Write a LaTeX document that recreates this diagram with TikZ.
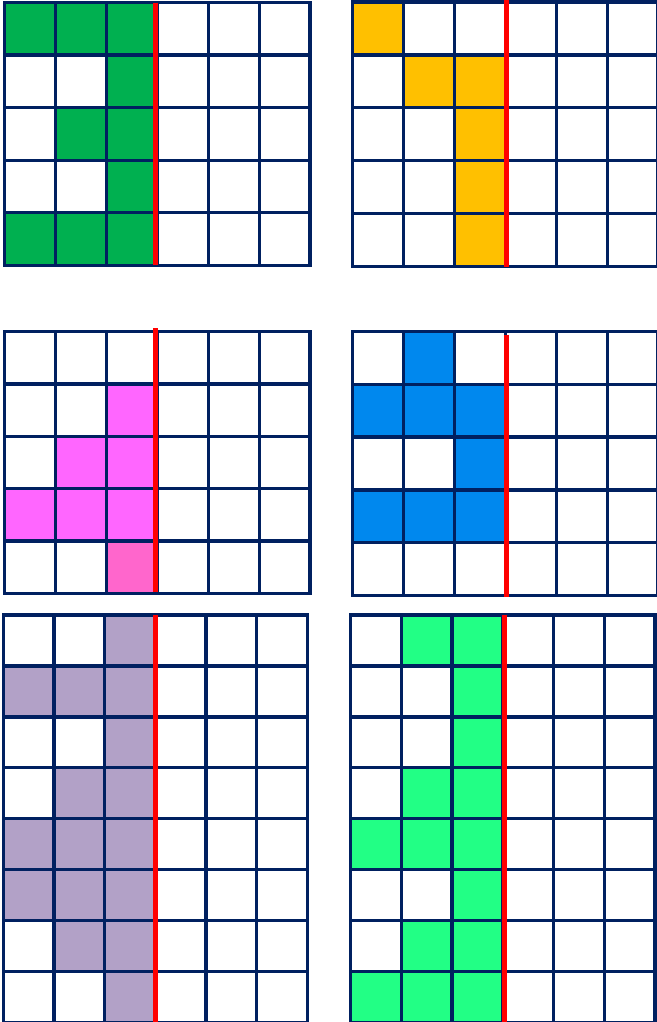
\documentclass[tikz,border=0pt]{standalone}
\usepackage{tikz}

\definecolor{navy}{HTML}{002060}
\definecolor{leafgreen}{HTML}{00B050}
\definecolor{amber}{HTML}{FFC000}
\definecolor{orchid}{HTML}{FF66FF}
\definecolor{rosepink}{HTML}{FF66CC}
\definecolor{skyblue}{HTML}{0088EE}
\definecolor{lavender}{HTML}{B2A1C7}
\definecolor{mint}{HTML}{22FF85}

\tikzset{
    gridline/.style={navy, line width=3.4pt, line cap=rect},
    cutline/.style={red, line width=5pt}
}

\begin{document}
\begin{tikzpicture}[x=1pt,y=-1pt]
    % page with margins
    \fill[white] (0,0) rectangle (656,1022);
    \useasboundingbox (0,0) rectangle (656,1022);

% --------------------
% Top left grid (green)
% --------------------
    \def\ox{4.7}
    \def\oy{2.7}
    \def\cw{50.9}
    \def\ch{52.5}
    \foreach \c/\r in {0/0,1/0,2/0,2/1,1/2,2/2,2/3,0/4,1/4,2/4}
        \fill[leafgreen] (\ox+\c*\cw,\oy+\r*\ch) rectangle ++(\cw,\ch);
    \foreach \i in {0,...,6}
        \draw[gridline] (\ox+\i*\cw,\oy) -- ++(0,5*\ch);
    \foreach \j in {0,...,5}
        \draw[gridline] (\ox,\oy+\j*\ch) -- ++(6*\cw,0);
    \draw[cutline] (\ox+3*\cw-1.5,\oy) -- ++(0,5*\ch);

% --------------------
% Top right grid (amber)
% --------------------
    \def\ox{352.7}
    \def\oy{2}
    \def\cw{50.9}
    \def\ch{52.9}
    \foreach \c/\r in {0/0,1/1,2/1,2/2,2/3,2/4}
        \fill[amber] (\ox+\c*\cw,\oy+\r*\ch) rectangle ++(\cw,\ch);
    \foreach \i in {0,...,6}
        \draw[gridline] (\ox+\i*\cw,\oy) -- ++(0,5*\ch);
    \foreach \j in {0,...,5}
        \draw[gridline] (\ox,\oy+\j*\ch) -- ++(6*\cw,0);
    \draw[cutline] (\ox+3*\cw+1.5,0) -- (\ox+3*\cw+1.5,\oy+5*\ch);

% --------------------
% Middle left grid (orchid)
% --------------------
    \def\ox{4.7}
    \def\oy{331.7}
    \def\cw{50.9}
    \def\ch{52.3}
    \foreach \c/\r in {2/1,1/2,2/2,0/3,1/3,2/3}
        \fill[orchid] (\ox+\c*\cw,\oy+\r*\ch) rectangle ++(\cw,\ch);
    \fill[rosepink] (\ox+2*\cw,\oy+4*\ch) rectangle ++(\cw,\ch);
    \foreach \i in {0,...,6}
        \draw[gridline] (\ox+\i*\cw,\oy) -- ++(0,5*\ch);
    \foreach \j in {0,...,5}
        \draw[gridline] (\ox,\oy+\j*\ch) -- ++(6*\cw,0);
    \draw[cutline] (\ox+3*\cw-1.5,328.3) -- (\ox+3*\cw-1.5,591.7);

% --------------------
% Middle right grid (blue)
% --------------------
    \def\ox{352.7}
    \def\oy{331.7}
    \def\cw{50.9}
    \def\ch{52.7}
    \foreach \c/\r in {1/0,0/1,1/1,2/1,2/2,0/3,1/3,2/3}
        \fill[skyblue] (\ox+\c*\cw,\oy+\r*\ch) rectangle ++(\cw,\ch);
    \foreach \i in {0,...,6}
        \draw[gridline] (\ox+\i*\cw,\oy) -- ++(0,5*\ch);
    \foreach \j in {0,...,5}
        \draw[gridline] (\ox,\oy+\j*\ch) -- ++(6*\cw,0);
    \draw[cutline] (\ox+3*\cw+1.5,335) -- (\ox+3*\cw+1.5,596.7);

% --------------------
% Bottom left grid (lavender)
% --------------------
    \def\ox{3.3}
    \def\oy{615}
    \def\cw{50.67}
    \def\ch{50.9}
    \foreach \c/\r in {2/0,0/1,1/1,2/1,2/2,1/3,2/3,0/4,1/4,2/4,0/5,1/5,2/5,1/6,2/6,2/7}
        \fill[lavender] (\ox+\c*\cw,\oy+\r*\ch) rectangle ++(\cw,\ch);
    \foreach \i in {0,...,6}
        \draw[gridline] (\ox+\i*\cw,\oy) -- ++(0,8*\ch);
    \foreach \j in {0,...,8}
        \draw[gridline] (\ox,\oy+\j*\ch) -- ++(6*\cw,0);
    \draw[cutline] (\ox+3*\cw,\oy) -- ++(0,8*\ch);

% --------------------
% Bottom right grid (mint)
% --------------------
    \def\ox{350.7}
    \def\oy{615}
    \def\cw{50.7}
    \def\ch{50.9}
    \foreach \c/\r in {1/0,2/0,2/1,2/2,1/3,2/3,0/4,1/4,2/4,2/5,1/6,2/6,0/7,1/7,2/7}
        \fill[mint] (\ox+\c*\cw,\oy+\r*\ch) rectangle ++(\cw,\ch);
    \foreach \i in {0,...,6}
        \draw[gridline] (\ox+\i*\cw,\oy) -- ++(0,8*\ch);
    \foreach \j in {0,...,8}
        \draw[gridline] (\ox,\oy+\j*\ch) -- ++(6*\cw,0);
    \draw[cutline] (\ox+3*\cw+2,\oy) -- ++(0,8*\ch);

\end{tikzpicture}
\end{document}
